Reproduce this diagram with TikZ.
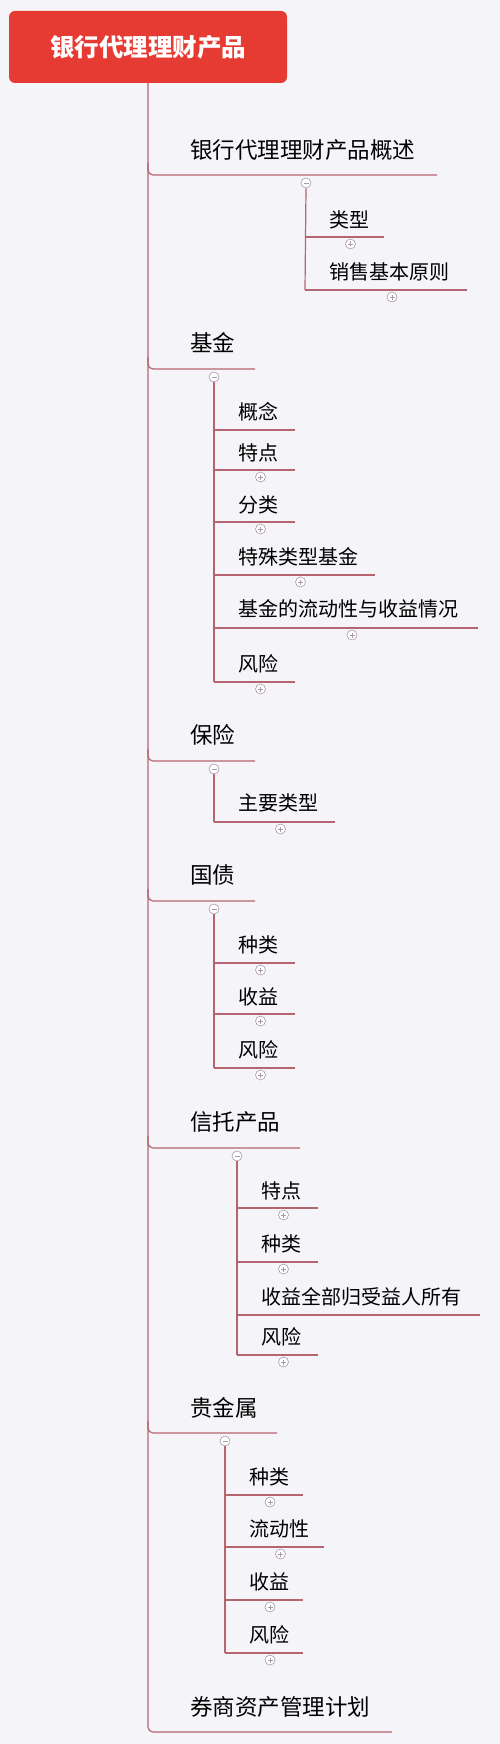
\documentclass[tikz,border=0pt]{standalone}
\usepackage{fontspec}
\setmainfont{Noto Sans CJK SC}
\usetikzlibrary{calc}
\definecolor{bgc}{HTML}{F5F5F9}
\definecolor{rootred}{HTML}{E63B33}
\definecolor{linec}{HTML}{B5656F}
\definecolor{togc}{HTML}{A89CA2}
\tikzset{
  rootbox/.style={fill=rootred, rounded corners=6pt, text=white, font=\fontsize{24.5}{24.5}\selectfont\bfseries, minimum width=278pt, minimum height=72pt, inner sep=0pt},
  topitem/.style={anchor=west, inner sep=0pt, text=black, font=\fontsize{22.5}{22.5}\selectfont},
  subitem/.style={anchor=west, inner sep=0pt, text=black, font=\fontsize{20}{20}\selectfont},
  branch/.style={draw=linec, line width=1.2pt},
  togbase/.style={circle, draw=togc, fill=white, line width=0.6pt, minimum size=10pt, inner sep=0pt},
  minusc/.style={togbase, path picture={\draw[togc,line width=0.7pt] ([xshift=-2.5pt]path picture bounding box.center)--([xshift=2.5pt]path picture bounding box.center);}},
  plusc/.style={togbase, path picture={\draw[togc,line width=0.7pt] ([xshift=-2.5pt]path picture bounding box.center)--([xshift=2.5pt]path picture bounding box.center) ([yshift=-2.5pt]path picture bounding box.center)--([yshift=2.5pt]path picture bounding box.center);}}
}
% #1 name, #2 text, #3 text y, #4 line y, #5 line end x
\newcommand\MMtop[5]{%
  \node[topitem] (#1) at (190,#3) {#2};
  \coordinate (#1-s) at (148,#4-12);
  \coordinate (#1-e) at (#5,#4);
  \draw[branch,rounded corners=5pt] (#1-s) |- (#1-e);
}
% toggle for a top item: #1 name, #2 x, #3 line y
\newcommand\MMminus[3]{\node[minusc] (#1-t) at (#2,#3+8) {};}
% #1 name, #2 text, #3 vertical x, #4 text y, #5 line y, #6 end x
\newcommand\MMsub[6]{%
  \node[subitem] (#1) at (#3+24,#4) {#2};
  \coordinate (#1-s) at (#3,#5);
  \coordinate (#1-e) at (#6,#5);
  \draw[branch] (#1-s) -- (#1-e);
}
\newcommand\MMplus[1]{\node[plusc] (#1-p) at ($(#1-s)!0.5!(#1-e)+(6,7)$) {};}
\begin{document}
\begin{tikzpicture}[x=1pt,y=-1pt]
\useasboundingbox (0,0) rectangle (500,1744);
\fill[bgc] (0,0) rectangle (500,1744);
\node[rootbox] (root) at (148,47) {银行代理理财产品};
% last top item and trunk
\node[topitem] (qs) at (190,1707) {券商资产管理计划};
\coordinate (qs-e) at (392,1732);
\draw[branch,rounded corners=5pt] (root.south) |- (qs-e);
% 1
\MMtop{gs}{银行代理理财产品概述}{150}{175}{437}
\MMminus{gs}{306}{175}
\MMsub{gs1}{类型}{305}{220}{237}{384}\MMplus{gs1}
\MMsub{gs2}{销售基本原则}{305}{272}{290}{467}\MMplus{gs2}
\draw[branch] (gs-t.south) -- (gs2-s);
% 2
\MMtop{jj}{基金}{343}{369}{255}
\MMminus{jj}{214}{369}
\MMsub{jj1}{概念}{214}{412}{430}{295}
\MMsub{jj2}{特点}{214}{453}{470}{295}\MMplus{jj2}
\MMsub{jj3}{分类}{214}{505}{522}{295}\MMplus{jj3}
\MMsub{jj4}{特殊类型基金}{214}{557}{575}{375}\MMplus{jj4}
\MMsub{jj5}{基金的流动性与收益情况}{214}{609}{628}{478}\MMplus{jj5}
\MMsub{jj6}{风险}{214}{664}{682}{295}\MMplus{jj6}
\draw[branch] (jj-t.south) -- (jj6-s);
% 3
\MMtop{bx}{保险}{735}{761}{255}
\MMminus{bx}{214}{761}
\MMsub{bx1}{主要类型}{214}{803}{822}{335}\MMplus{bx1}
\draw[branch] (bx-t.south) -- (bx1-s);
% 4
\MMtop{gz}{国债}{875}{901}{255}
\MMminus{gz}{214}{901}
\MMsub{gz1}{种类}{214}{945}{963}{295}\MMplus{gz1}
\MMsub{gz2}{收益}{214}{997}{1014}{295}\MMplus{gz2}
\MMsub{gz3}{风险}{214}{1050}{1068}{295}\MMplus{gz3}
\draw[branch] (gz-t.south) -- (gz3-s);
% 5
\MMtop{xt}{信托产品}{1122}{1148}{300}
\MMminus{xt}{237}{1148}
\MMsub{xt1}{特点}{237}{1191}{1208}{318}\MMplus{xt1}
\MMsub{xt2}{种类}{237}{1244}{1262}{318}\MMplus{xt2}
\MMsub{xt3}{收益全部归受益人所有}{237}{1297}{1315}{480}
\MMsub{xt4}{风险}{237}{1337}{1355}{318}\MMplus{xt4}
\draw[branch] (xt-t.south) -- (xt4-s);
% 6
\MMtop{gjs}{贵金属}{1408}{1433}{277}
\MMminus{gjs}{225}{1433}
\MMsub{gjs1}{种类}{225}{1477}{1495}{303}\MMplus{gjs1}
\MMsub{gjs2}{流动性}{225}{1529}{1547}{324}\MMplus{gjs2}
\MMsub{gjs3}{收益}{225}{1582}{1600}{303}\MMplus{gjs3}
\MMsub{gjs4}{风险}{225}{1635}{1653}{303}\MMplus{gjs4}
\draw[branch] (gjs-t.south) -- (gjs4-s);
\end{tikzpicture}
\end{document}
